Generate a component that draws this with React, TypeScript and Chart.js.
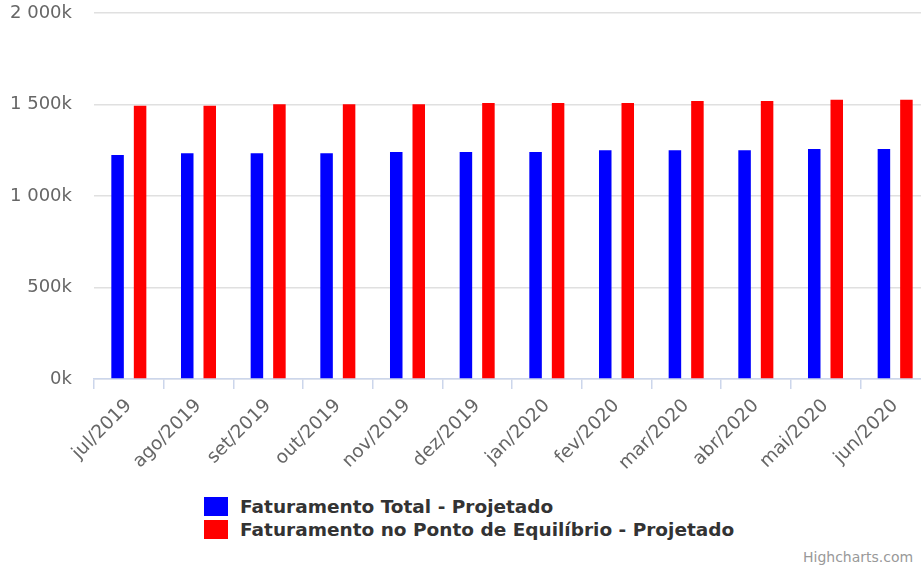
import React, { useEffect, useRef } from "react";
import { Chart, registerables } from "chart.js";

Chart.register(...registerables);

const categories = [
  "jul/2019", "ago/2019", "set/2019", "out/2019", "nov/2019", "dez/2019",
  "jan/2020", "fev/2020", "mar/2020", "abr/2020", "mai/2020", "jun/2020",
];
const faturamentoTotal = [
  1224000, 1233000, 1233000, 1233000, 1240000, 1240000,
  1240000, 1250000, 1250000, 1250000, 1257000, 1257000,
];
const faturamentoEquilibrio = [
  1493000, 1493000, 1502000, 1502000, 1502000, 1508000,
  1508000, 1508000, 1519000, 1519000, 1526000, 1526000,
];
const seriesNames = [
  "Faturamento Total - Projetado",
  "Faturamento no Ponto de Equilíbrio - Projetado",
];
const seriesColors = ["#0000ff", "#ff0000"];
const yMax = 2000000;
const yStep = 500000;

const FONT = "'DejaVu Sans', Verdana, sans-serif";

function formatK(v: number): string {
  const k = Math.round(v / 1000);
  return String(k).replace(/\B(?=(\d{3})+(?!\d))/g, " ") + "k";
}

export default function App() {
  const canvasRef = useRef<HTMLCanvasElement | null>(null);

  useEffect(() => {
    if (!canvasRef.current) return;
    const chart = new Chart(canvasRef.current, {
      type: "bar",
      data: {
        labels: categories,
        datasets: [
          {
            label: seriesNames[0],
            data: faturamentoTotal,
            backgroundColor: seriesColors[0],
            categoryPercentage: 0.646,
            barPercentage: 0.556,
          },
          {
            label: seriesNames[1],
            data: faturamentoEquilibrio,
            backgroundColor: seriesColors[1],
            categoryPercentage: 0.646,
            barPercentage: 0.556,
          },
        ],
      },
      options: {
        animation: false,
        responsive: false,
        maintainAspectRatio: false,
        layout: { padding: { top: 13, right: 5, left: 0, bottom: 0 } },
        plugins: {
          legend: { display: false },
          tooltip: { enabled: false },
        },
        scales: {
          x: {
            type: "category",
            offset: true,
            grid: {
              offset: true,
              drawOnChartArea: false,
              drawTicks: true,
              tickLength: 10,
              color: "#ccd6eb",
              lineWidth: 1.5,
            },
            border: { color: "#ccd6eb", width: 1.5 },
            ticks: {
              autoSkip: false,
              maxRotation: 45,
              minRotation: 45,
              padding: 6,
              color: "#666666",
              font: { family: FONT, size: 18.5 },
            },
            afterFit: (s: any) => {
              s.height = 100;
              s.paddingLeft = 0;
              s.paddingRight = 0;
            },
          },
          y: {
            min: 0,
            max: yMax,
            ticks: {
              stepSize: yStep,
              padding: 22,
              color: "#666666",
              font: { family: FONT, size: 18 },
              callback: (v: any) => formatK(Number(v)),
            },
            grid: {
              color: "#e0e0e0",
              drawTicks: false,
              lineWidth: 1.5,
            },
            border: { display: false },
            afterFit: (s: any) => {
              s.width = 94;
              s.paddingTop = 0;
              s.paddingBottom = 0;
            },
          },
        },
      },
    });
    return () => chart.destroy();
  }, []);

  return (
    <div
      style={{
        position: "fixed",
        left: 0,
        top: 0,
        width: 921,
        height: 572,
        overflow: "hidden",
        background: "#ffffff",
      }}
    >
      <canvas
        ref={canvasRef}
        width={935}
        height={479}
        style={{ position: "absolute", left: 0, top: 0, width: 935, height: 479 }}
      />
      <div style={{ position: "absolute", left: 204, top: 495 }}>
        {seriesNames.map((name, i) => (
          <div
            key={name}
            style={{ display: "flex", alignItems: "center", height: 23 }}
          >
            <div
              style={{
                width: 24,
                height: 19,
                background: seriesColors[i],
                marginRight: 12,
              }}
            />
            <span
              style={{
                fontFamily: FONT,
                fontWeight: "bold",
                fontSize: 18.5,
                color: "#333333",
                whiteSpace: "nowrap",
                lineHeight: "23px",
              }}
            >
              {name}
            </span>
          </div>
        ))}
      </div>
      <span
        style={{
          position: "absolute",
          left: 803,
          top: 548,
          fontFamily: FONT,
          fontSize: 14,
          color: "#999999",
          whiteSpace: "nowrap",
          lineHeight: "18px",
        }}
      >
        Highcharts.com
      </span>
    </div>
  );
}
